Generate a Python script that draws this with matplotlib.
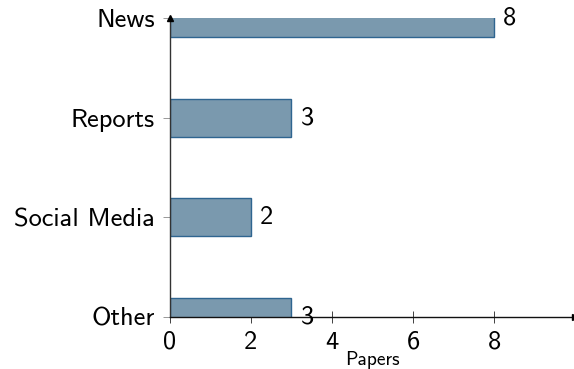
import matplotlib
matplotlib.use("Agg")
import matplotlib.pyplot as plt

categories = ["News", "Reports", "Social Media", "Other"]
values = [8, 3, 2, 3]
xticks = [0, 2, 4, 6, 8]

fam = ["cmss10", "DejaVu Sans"]
plt.rcParams["font.family"] = fam
plt.rcParams["axes.formatter.use_mathtext"] = False

fig = plt.figure(figsize=(5.74, 3.69), dpi=100)
ax = fig.add_axes([0.296, 0.141, 0.706, 0.810])

ypos = list(range(len(categories)))[::-1]
ax.barh(ypos, values, height=0.38, color="#7a99ae", edgecolor="#2f6590", linewidth=1.0, zorder=2)
for y, v in zip(ypos, values):
    ax.text(v + 0.22, y, str(v), va="center", ha="left", fontsize=19, zorder=3, clip_on=False)

ax.set_xlim(0, 10)
ax.set_ylim(0, 3)
ax.set_yticks(ypos)
ax.set_yticklabels(categories, fontsize=19)
ax.set_xticks(xticks)
ax.set_xticklabels([str(t) for t in xticks], fontsize=19)
ax.tick_params(axis="y", length=5, width=0.6, color="#888888", pad=6, direction="out")
ax.tick_params(axis="x", length=8, width=0.6, color="#222222", pad=6, direction="inout")

for s in ["top", "right"]:
    ax.spines[s].set_visible(False)
ax.spines["left"].set_color("#333333")
ax.spines["bottom"].set_color("#111111")
ax.spines["left"].set_linewidth(1.0)
ax.spines["bottom"].set_linewidth(1.0)

ax.plot(1.0, 0, marker=">", color="black", markersize=5, transform=ax.transAxes, clip_on=False, zorder=5)
ax.plot(0, 1.0, marker="^", color="black", markersize=4, transform=ax.transAxes, clip_on=False, zorder=5)

ax.text(5, -0.43, "Papers", transform=ax.transData, ha="center", va="center", fontsize=14)

fig.savefig("out.png", dpi=100)
